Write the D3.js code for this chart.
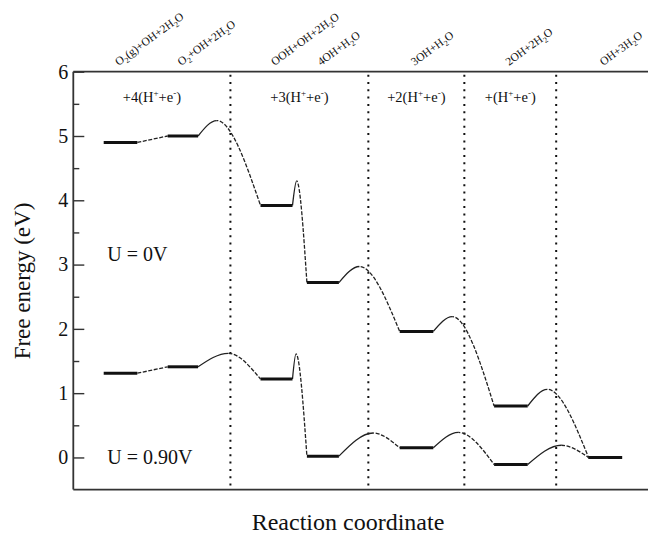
<!DOCTYPE html>
<html>
<head>
<meta charset="utf-8">
<script src="https://cdn.jsdelivr.net/npm/d3@7"></script>
<style>
  body { margin: 0; background: #fff; }
  svg text { font-family: "Liberation Serif", "DejaVu Serif", "Times New Roman", serif; fill: #111; }
</style>
</head>
<body>
<script>
// states along the reaction path ("_x" marks a subscript)
const states = ["O_2(g)+OH+2H_2O", "O_2+OH+2H_2O", "OOH+OH+2H_2O", "4OH+H_2O", "3OH+H_2O", "2OH+2H_2O", "OH+3H_2O"];
// where each plateau starts / ends on the reaction coordinate
const levelStart = [0.95, 2.95, 5.85, 7.3, 10.2, 13.15, 16.1];
const levelEnd = [2.0, 3.9, 6.85, 8.3, 11.25, 14.2, 17.15];
// free energies of the plateaus (eV)
const energyU0 = [4.90, 5.00, 3.92, 2.72, 1.96, 0.80, 0.00];
const energyU090 = [1.31, 1.41, 1.22, 0.02, 0.15, -0.11, 0.00];
// barrier tops between plateau i and i+1 (null = straight link)
const peakXU0 = [null, 4.48, 6.98, 8.94, 11.84, 14.81];
const peakU0 = [null, 5.24, 4.30, 2.97, 2.19, 1.06];
const peakXU090 = [null, 4.84, 6.96, 9.37, 12.03, 15.25];
const peakU090 = [null, 1.62, 1.61, 0.38, 0.39, 0.19];
// vertical separators and the proton/electron steps between them
const dividers = [4.91, 9.22, 12.22, 15.09];
const stepLabels = ["+4", "+3", "+2", "+"];
const yTicks = [0, 1, 2, 3, 4, 5, 6];
const yMinor = [0.5, 1.5, 2.5, 3.5, 4.5, 5.5];

const width = 648, height = 534;
const serif = '"Liberation Serif", "DejaVu Serif", "Times New Roman", serif';

const svg = d3.select('body')
    .append('svg')
    .attr('width', width)
    .attr('height', height)
    .attr('font-family', serif);
const defs = svg.append('defs');

const x = d3.scaleLinear().domain([0, 18]).range([73.3, 649.3]);
const y = d3.scaleLinear().domain([-0.5, 6]).range([489.6, 71.7]);

// y axis, ticks pointing inwards
const yAxis = svg.append('g')
    .attr('transform', `translate(${x(0)},0)`)
    .call(d3.axisLeft(y).tickValues(yTicks).tickSize(-11).tickPadding(5).tickFormat(d3.format('d')))
    .attr('font-family', serif);
yAxis.select('.domain').remove();
yAxis.selectAll('.tick line').attr('stroke', '#333').attr('stroke-width', 1.4);
yAxis.selectAll('.tick text').attr('font-size', 20).attr('fill', '#111');

const yMin = svg.append('g')
    .attr('transform', `translate(${x(0)},0)`)
    .call(d3.axisLeft(y).tickValues(yMinor).tickSize(-6).tickFormat(''));
yMin.select('.domain').remove();
yMin.selectAll('.tick line').attr('stroke', '#333').attr('stroke-width', 1.4);

// frame (right side falls outside the picture)
const frame = svg.append('g').attr('stroke', '#333').attr('stroke-width', 1.8);
frame.append('line').attr('x1', x(0)).attr('x2', width).attr('y1', y(6)).attr('y2', y(6));
frame.append('line').attr('x1', x(0)).attr('x2', width).attr('y1', y(-0.5)).attr('y2', y(-0.5));
frame.append('line').attr('x1', x(0)).attr('x2', x(0)).attr('y1', y(6)).attr('y2', y(-0.5));

// dotted separators
svg.append('g').selectAll('line')
    .data(dividers)
    .enter()
    .append('line')
    .attr('x1', d => x(d)).attr('x2', d => x(d))
    .attr('y1', y(6) + 3).attr('y2', y(-0.5))
    .attr('stroke', '#111')
    .attr('stroke-width', 2)
    .attr('stroke-dasharray', '2,5.3');

const link = d3.line().x(d => x(d[0])).y(d => y(d[1])).curve(d3.curveMonotoneX);
let clipId = 0;

function clipRect(x0, x1) {
    const id = 'clip' + (clipId++);
    defs.append('clipPath').attr('id', id)
        .append('rect')
        .attr('x', x0).attr('width', x1 - x0)
        .attr('y', 0).attr('height', height);
    return `url(#${id})`;
}

function drawPath(energy, peakX, peak) {
    const g = svg.append('g');
    // barriers: solid on the way up, dashed on the way down
    for (let i = 0; i < energy.length - 1; i++) {
        let pts = [[levelEnd[i], energy[i]]];
        if (peakX[i] != null) pts.push([peakX[i], peak[i]]);
        pts.push([levelStart[i + 1], energy[i + 1]]);
        const d = link(pts);
        const split = peakX[i] != null ? x(peakX[i]) : x(levelEnd[i]);
        g.append('path')
            .attr('d', d)
            .attr('fill', 'none')
            .attr('stroke', '#222')
            .attr('stroke-width', 1.3)
            .attr('clip-path', clipRect(x(levelEnd[i]) - 2, split));
        g.append('path')
            .attr('d', d)
            .attr('fill', 'none')
            .attr('stroke', '#222')
            .attr('stroke-width', 1.3)
            .attr('stroke-dasharray', '4,1.6')
            .attr('clip-path', clipRect(split, x(levelStart[i + 1]) + 2));
    }
    // thick plateaus
    g.selectAll('line.level')
        .data(energy)
        .enter()
        .append('line')
        .attr('class', 'level')
        .attr('x1', (d, i) => x(levelStart[i]))
        .attr('x2', (d, i) => x(levelEnd[i]))
        .attr('y1', d => y(d))
        .attr('y2', d => y(d))
        .attr('stroke', '#111')
        .attr('stroke-width', 3);
}

drawPath(energyU0, peakXU0, peakU0);
drawPath(energyU090, peakXU090, peakU090);

// chemical state labels along the top, rotated
function addChem(sel, s) {
    s.split(/(_\d)/).filter(p => p).forEach(p => {
        if (p[0] === '_') {
            sel.append('tspan').attr('dy', 3).attr('font-size', 8).text(p.slice(1));
            sel.append('tspan').attr('dy', -3).text('\u200b');
        } else {
            sel.append('tspan').text(p);
        }
    });
}

states.forEach((s, i) => {
    const cx = x((levelStart[i] + levelEnd[i]) / 2) - 2;
    const t = svg.append('text')
        .attr('transform', `translate(${cx},66) rotate(-36)`)
        .attr('font-size', 11.5);
    addChem(t, s);
});

// +n(H+ + e-) labels centred between separators
const bounds = [0].concat(dividers);
stepLabels.forEach((s, i) => {
    const t = svg.append('text')
        .attr('x', x((bounds[i] + bounds[i + 1]) / 2))
        .attr('y', y(5.53))
        .attr('text-anchor', 'middle')
        .attr('font-size', 14.5);
    t.append('tspan').text(s + '(H');
    t.append('tspan').attr('dy', -6).attr('font-size', 9).text('+');
    t.append('tspan').attr('dy', 6).text('+e');
    t.append('tspan').attr('dy', -6).attr('font-size', 9).text('-');
    t.append('tspan').attr('dy', 6).text(')');
});

// potential labels
svg.append('text').attr('x', x(1.06)).attr('y', y(3.05)).attr('font-size', 20).text('U = 0V');
svg.append('text').attr('x', x(1.06)).attr('y', y(-0.1)).attr('font-size', 20).text('U = 0.90V');

// axis titles
svg.append('text')
    .attr('x', 348).attr('y', 530)
    .attr('text-anchor', 'middle')
    .attr('font-size', 24)
    .text('Reaction coordinate');

svg.append('text')
    .attr('transform', 'translate(30,281) rotate(-90)')
    .attr('text-anchor', 'middle')
    .attr('font-size', 23)
    .text('Free energy (eV)');
</script>
</body>
</html>
